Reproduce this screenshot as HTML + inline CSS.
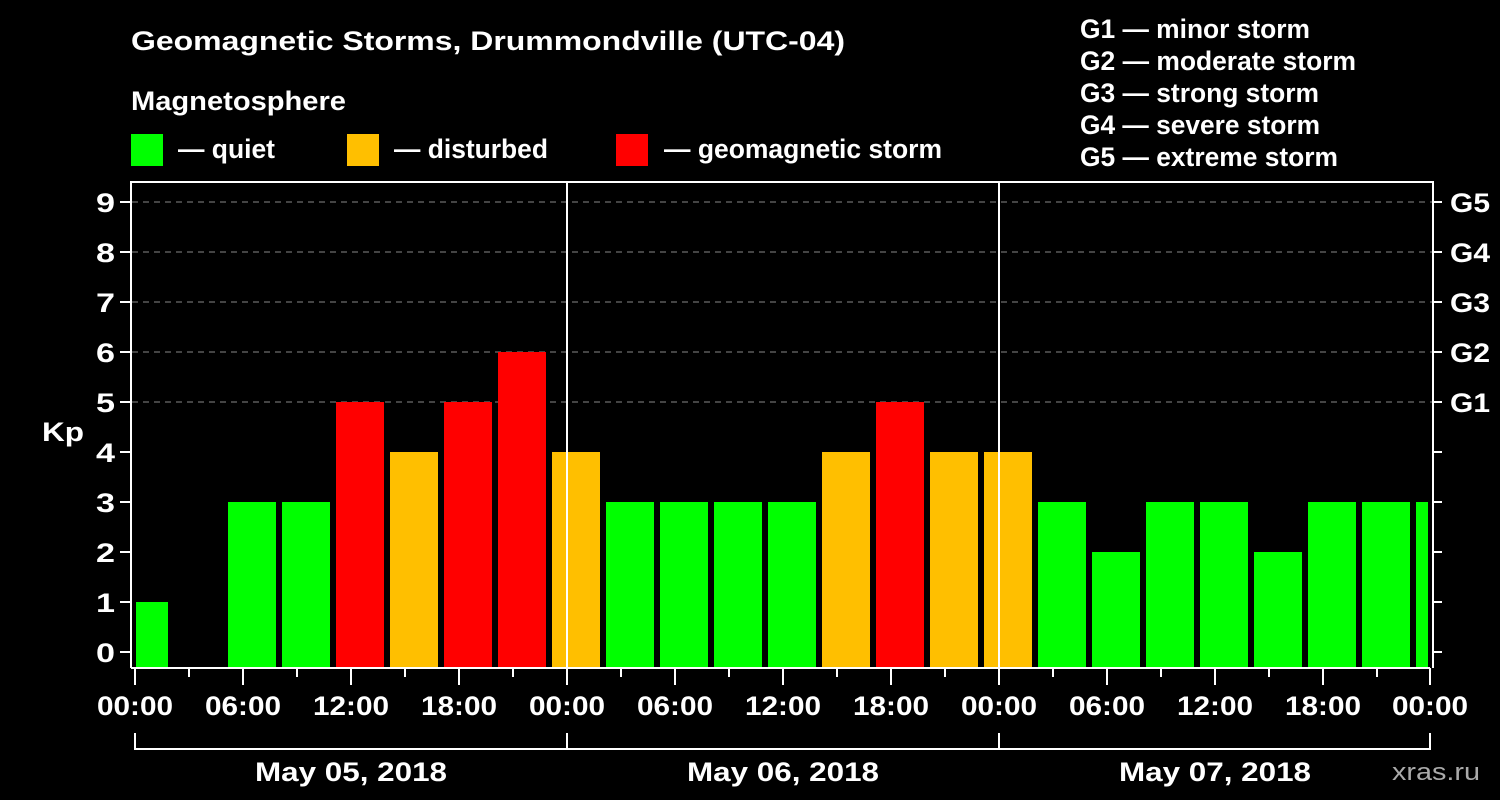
<!DOCTYPE html>
<html><head><meta charset="utf-8"><style>
body{margin:0;background:#000;}
svg{display:block;font-family:"Liberation Sans",sans-serif;font-weight:bold;}
</style></head><body>
<svg width="1500" height="800" xmlns="http://www.w3.org/2000/svg">
<rect width="1500" height="800" fill="#000"/>
<g fill="#fff" font-size="27" lengthAdjust="spacingAndGlyphs">
<text x="131" y="50" textLength="714" lengthAdjust="spacingAndGlyphs">Geomagnetic Storms, Drummondville (UTC-04)</text>
<text x="131" y="110" textLength="215" lengthAdjust="spacingAndGlyphs">Magnetosphere</text>
<text x="178" y="158" textLength="97" lengthAdjust="spacingAndGlyphs">— quiet</text>
<text x="394" y="158" textLength="154" lengthAdjust="spacingAndGlyphs">— disturbed</text>
<text x="664" y="158" textLength="278" lengthAdjust="spacingAndGlyphs">— geomagnetic storm</text>
<text x="1080" y="38" textLength="230" lengthAdjust="spacingAndGlyphs">G1 — minor storm</text>
<text x="1080" y="70" textLength="276" lengthAdjust="spacingAndGlyphs">G2 — moderate storm</text>
<text x="1080" y="102" textLength="239" lengthAdjust="spacingAndGlyphs">G3 — strong storm</text>
<text x="1080" y="134" textLength="240" lengthAdjust="spacingAndGlyphs">G4 — severe storm</text>
<text x="1080" y="166" textLength="258" lengthAdjust="spacingAndGlyphs">G5 — extreme storm</text>
</g>
<rect x="131" y="134" width="32" height="32" fill="#00ff00"/>
<rect x="347" y="134" width="32" height="32" fill="#ffbf00"/>
<rect x="616" y="134" width="32" height="32" fill="#ff0000"/>
<g stroke="#888" stroke-width="1" stroke-dasharray="6,5">
<line x1="132" y1="202" x2="1432" y2="202"/><line x1="132" y1="252" x2="1432" y2="252"/>
<line x1="132" y1="302" x2="1432" y2="302"/><line x1="132" y1="352" x2="1432" y2="352"/>
<line x1="132" y1="402" x2="1432" y2="402"/>
</g>
<g id="bars"></g>
<g stroke="#fff" stroke-width="2" fill="none">
<polyline points="131,668 131,182 1433,182 1433,668"/>
<line x1="131" y1="668" x2="1430" y2="668"/>
<line x1="567" y1="182" x2="567" y2="668"/>
<line x1="999" y1="182" x2="999" y2="668"/>
<polyline points="135,733 135,749 1430,749 1430,733"/>
<line x1="567" y1="733" x2="567" y2="749"/>
<line x1="999" y1="733" x2="999" y2="749"/>
<g id="ticks"></g>
</g>
<g fill="#fff" font-size="27" id="labels">
<text x="42" y="441" textLength="42" lengthAdjust="spacingAndGlyphs">Kp</text>
<text x="1450" y="212" textLength="40" lengthAdjust="spacingAndGlyphs">G5</text><text x="1450" y="262" textLength="40" lengthAdjust="spacingAndGlyphs">G4</text><text x="1450" y="312" textLength="40" lengthAdjust="spacingAndGlyphs">G3</text>
<text x="1450" y="362" textLength="40" lengthAdjust="spacingAndGlyphs">G2</text><text x="1450" y="412" textLength="40" lengthAdjust="spacingAndGlyphs">G1</text>
<text x="255" y="781" textLength="192" lengthAdjust="spacingAndGlyphs">May 05, 2018</text>
<text x="687" y="781" textLength="192" lengthAdjust="spacingAndGlyphs">May 06, 2018</text>
<text x="1119" y="781" textLength="192" lengthAdjust="spacingAndGlyphs">May 07, 2018</text>
</g>
<text x="1392" y="780" fill="#aaa" font-size="24" font-weight="normal" textLength="88" lengthAdjust="spacingAndGlyphs">xras.ru</text>
<script>
var ns="http://www.w3.org/2000/svg";
function el(p,t,a,txt){var e=document.createElementNS(ns,t);for(var k in a)e.setAttribute(k,a[k]);if(txt)e.textContent=txt;p.appendChild(e);return e;}
var vals=[1,0,3,3,5,4,5,6,4,3,3,3,3,4,5,4,4,3,2,3,3,2,3,3,3];
var b=document.getElementById("bars");
vals.forEach(function(v,k){if(!v)return;var x0=Math.max(136,120+54*k),x1=Math.min(1428,168+54*k);
var c=v>=5?"#ff0000":v==4?"#ffbf00":"#00ff00";var y=652-50*v;
el(b,"rect",{x:x0,y:y,width:x1-x0,height:668-y,fill:c});});
var t=document.getElementById("ticks"),L=document.getElementById("labels");
for(var i=0;i<=9;i++){var y=652-50*i;el(t,"line",{x1:120,y1:y,x2:131,y2:y});el(t,"line",{x1:1433,y1:y,x2:1442,y2:y});
el(L,"text",{x:96,y:y+10,textLength:19,lengthAdjust:"spacingAndGlyphs"},""+i);}
var hl=["00:00","06:00","12:00","18:00"];
for(var h=0;h<=72;h+=3){var x=135+18*h;x=Math.min(x,1430);var maj=h%6==0;
el(t,"line",{x1:x,y1:668,x2:x,y2:maj?685:677});
if(maj)el(L,"text",{x:x-38,y:715,textLength:76,lengthAdjust:"spacingAndGlyphs"},hl[(h%24)/6]);}
</script>
</svg>
</body></html>
